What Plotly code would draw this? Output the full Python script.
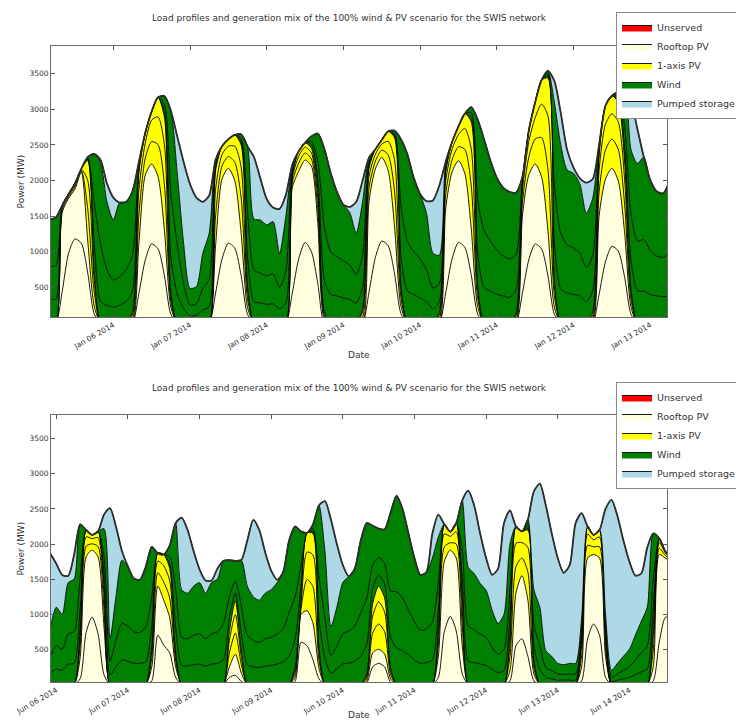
import numpy as np
import pandas as pd
import plotly.graph_objects as go

TITLE = "Load profiles and generation mix of the 100% wind & PV scenario for the SWIS network"
STEP = "2h"

# ---------------- January week (2-hourly, from 2014-01-05 04:00) ----------------
JAN_START = "2014-01-05 04:00"
jan_load = [1455,1480,1650,1810,1960,2165,2330,2375,2290,1960,
            1760,1690,1700,1850,2260,2670,2970,3170,3185,2980,
            2620,2260,1950,1760,1700,1790,2290,2480,2580,2640,
            2650,2480,2330,2030,1740,1620,1600,1800,2220,2410,
            2530,2620,2660,2450,2110,1840,1660,1630,1700,2000,
            2320,2440,2570,2690,2700,2580,2370,2040,1810,1710,
            1720,1930,2260,2540,2760,2940,3030,2860,2580,2280,
            2040,1900,1840,1830,2050,2700,3100,3410,3540,3400,
            2950,2430,2180,2030,1970,2020,2500,3050,3190,3240,
            3230,3100,2720,2330,2010,1850,1820,1980]
jan_roof_a = [0,0,440,980,1180,1120,700,130,0,0,
              0,0,0,0,415,885,1110,1040,660,120,
              0,0,0,0,0,0,420,895,1120,1050,
              665,120,0,0,0,0,0,0,420,900,
              1130,1000,550,0,0,0,0,0,0,0,
              430,920,1150,1085,690,130,0,0,0,0,
              0,0,420,900,1130,1060,670,125,0,0,
              0,0,0,0,415,885,1110,1040,660,120,
              0,0,0,0,0,0,400,860,1075,1010,
              640,120,0,0,0,0,0,0]
jan_roof_b = [0,0,1110,770,700,1000,450,110,0,0,
              0,0,0,0,701,1191,1122,1013,635,103,
              0,0,0,0,0,0,666,1124,1051,947,
              594,97,0,0,0,0,0,0,1480,1228,
              1158,1200,850,60,0,0,0,0,0,0,
              1270,1243,1176,1055,660,103,0,0,0,0,
              0,0,1180,1220,1149,1037,652,103,0,0,
              0,0,0,0,1085,1191,1122,1013,635,103,
              0,0,0,0,0,0,1100,1159,1096,987,
              619,97,0,0,0,0,0,0]
jan_pv_a = [0,0,40,25,35,20,450,200,0,0,
            0,0,0,60,400,240,314,450,640,80,
            0,0,0,0,0,0,420,185,165,260,
            500,120,0,0,0,0,0,0,70,115,
            100,100,180,40,0,0,0,0,0,80,
            190,110,100,220,500,120,0,0,0,0,
            0,60,205,170,195,340,600,120,0,0,
            0,0,0,55,180,250,350,550,860,160,
            0,0,0,0,0,60,340,410,410,440,
            400,100,0,0,0,0,0,0]
jan_pv_b = [0,0,35,20,25,15,400,170,0,0,
            0,0,0,50,350,210,304,390,560,70,
            0,0,0,0,0,0,370,160,145,225,
            430,105,0,0,0,0,0,0,60,95,
            80,85,160,35,0,0,0,0,0,70,
            165,95,85,190,440,105,0,0,0,0,
            0,50,180,150,170,295,520,105,0,0,
            0,0,0,45,160,220,300,470,750,140,
            0,0,0,0,0,50,300,360,355,385,
            350,90,0,0,0,0,0,0]
jan_pv_c = [0,0,25,15,20,10,280,130,0,0,
            0,0,0,40,244,144,120,277,390,50,
            0,0,0,0,0,0,264,116,99,158,
            311,75,0,0,0,0,0,0,40,72,
            62,65,110,25,0,0,0,0,0,50,
            115,72,59,140,310,75,0,0,0,0,
            0,40,125,100,116,208,380,75,0,0,
            0,0,0,30,110,154,218,337,535,100,
            0,0,0,0,0,40,210,261,254,275,
            250,60,0,0,0,0,0,0]
jan_wind_a = [350,330,0,0,0,0,20,400,300,250,
              220,250,300,300,40,0,0,0,80,500,
              400,200,100,110,180,230,40,0,0,0,
              40,400,300,280,260,270,200,280,40,0,
              0,50,170,450,400,380,350,330,280,300,
              40,0,0,0,30,400,450,400,350,300,
              200,150,40,0,0,0,60,450,500,450,
              400,380,360,330,30,0,0,0,30,500,
              480,420,400,380,300,300,40,0,0,40,
              200,400,450,450,400,380,370,380]
jan_wind_b = [450,470,0,0,0,0,15,550,800,500,
              380,400,450,500,50,0,0,0,100,900,
              700,350,150,160,300,380,50,0,0,0,
              50,650,450,420,400,420,300,450,50,0,
              0,50,250,750,600,550,520,480,400,450,
              50,0,0,0,30,700,700,600,550,450,
              290,250,50,0,0,0,70,750,800,700,
              620,560,540,500,30,0,0,0,30,800,
              780,680,650,600,480,500,50,0,0,50,
              300,650,700,720,620,560,550,600]
jan_wind_c = [655,680,0,0,0,0,15,685,1150,950,
              850,1040,950,900,60,0,0,0,120,1157,
              1000,568,236,240,498,649,60,0,0,0,
              60,913,710,746,716,732,478,770,60,0,
              0,70,390,1090,1110,910,790,740,580,750,
              60,0,0,0,40,947,1220,1040,910,790,
              490,400,60,0,0,0,78,1132,1280,1130,
              1020,960,940,870,40,0,0,0,40,1177,
              1240,1050,1050,970,760,800,60,0,0,53,
              471,912,1091,1160,990,910,900,1000]

# ---------------- June week (2-hourly, from 2014-06-05 22:00) ----------------
JUN_START = "2014-06-05 22:00"
jun_load = [1864,1720,1560,1545,1850,2280,2200,2130,2180,2420,
            2510,2250,1900,1680,1510,1490,1680,1960,1870,1850,
            1980,2300,2375,2200,1900,1640,1480,1480,1650,1760,
            1770,1760,1770,2050,2345,2200,1880,1620,1490,1600,
            2050,2250,2180,2160,2280,2550,2610,2350,2000,1700,
            1540,1650,2050,2300,2260,2220,2210,2450,2690,2500,
            2150,1800,1560,1600,2150,2420,2280,2175,2300,2620,
            2760,2550,2150,1800,1560,1650,2300,2480,2250,2180,
            2350,2750,2860,2550,2150,1800,1590,1700,2300,2440,
            2250,2130,2200,2500,2630,2400,2050,1750,1550,1580,
            1950,2150,2080,1900,1800]
jun_roof_a = [0,0,0,0,0,80,740,960,720,135,
              0,0,0,0,0,0,0,50,700,560,
              450,100,0,0,0,0,0,0,0,0,
              100,130,40,0,0,0,0,0,0,0,
              0,40,600,550,350,80,0,0,0,0,
              0,0,0,20,250,300,250,30,0,0,
              0,0,0,0,0,100,750,970,760,150,
              0,0,0,0,0,0,0,50,550,650,
              400,50,0,0,0,0,0,0,0,50,
              650,860,700,100,0,0,0,0,0,0,
              0,50,600,950,980]
jun_roof_b = [0,0,0,0,0,300,1077,952,1097,683,
              0,0,0,0,0,0,0,200,700,640,
              500,150,0,0,0,0,0,0,0,0,
              150,300,120,0,0,0,0,0,0,0,
              0,60,400,500,520,150,0,0,0,0,
              0,0,0,30,200,200,180,50,0,0,
              0,0,0,0,0,300,1000,942,1040,400,
              0,0,0,0,0,0,0,150,750,900,
              800,100,0,0,0,0,0,0,0,200,
              1150,990,1100,300,0,0,0,0,0,0,
              0,200,1250,850,770]
jun_pv_a = [0,0,0,0,0,160,150,90,145,240,
            0,0,0,0,0,0,0,120,190,260,
            280,80,0,0,0,0,0,0,0,0,
            200,300,120,0,0,0,0,0,0,0,
            0,60,80,445,520,120,0,0,0,0,
            0,0,0,40,280,360,320,60,0,0,
            0,0,0,0,0,160,210,105,200,280,
            0,0,0,0,0,0,0,200,380,250,
            400,80,0,0,0,0,0,0,0,160,
            180,110,160,120,0,0,0,0,0,0,
            0,240,90,40,20]
jun_pv_b = [0,0,0,0,0,140,135,75,128,210,
            0,0,0,0,0,0,0,105,165,230,
            245,70,0,0,0,0,0,0,0,0,
            175,265,105,0,0,0,0,0,0,0,
            0,50,70,390,455,105,0,0,0,0,
            0,0,0,35,245,315,280,50,0,0,
            0,0,0,0,0,140,185,92,175,245,
            0,0,0,0,0,0,0,175,330,220,
            350,70,0,0,0,0,0,0,0,140,
            160,100,140,105,0,0,0,0,0,0,
            0,210,80,35,15]
jun_pv_c = [0,0,0,0,0,100,98,53,90,150,
            0,0,0,0,0,0,0,75,115,160,
            175,50,0,0,0,0,0,0,0,0,
            125,195,75,0,0,0,0,0,0,0,
            0,40,50,275,305,75,0,0,0,0,
            0,0,0,25,175,225,200,40,0,0,
            0,0,0,0,0,100,135,66,125,175,
            0,0,0,0,0,0,0,125,240,160,
            250,50,0,0,0,0,0,0,0,100,
            110,70,100,75,0,0,0,0,0,0,
            0,150,60,25,15]
jun_wind_a = [160,220,200,290,300,300,0,0,0,160,
              130,250,350,330,300,300,320,280,0,0,
              70,360,270,260,280,290,260,290,300,350,
              200,110,260,280,250,240,260,270,290,320,
              400,400,200,0,30,400,380,160,220,290,
              300,330,400,420,220,160,200,440,520,480,
              420,350,300,310,350,260,0,0,0,270,
              330,310,290,270,210,170,200,260,0,0,
              30,200,220,100,80,60,60,60,60,60,
              0,0,0,60,40,60,80,100,140,180,
              220,260,0,0,0]
jun_wind_b = [240,330,300,430,450,450,0,0,0,240,
              200,380,520,500,450,440,500,420,0,0,
              100,550,400,390,420,430,390,430,450,520,
              300,170,390,420,380,360,390,400,430,480,
              620,600,290,0,40,600,570,250,330,430,
              460,500,620,650,330,250,290,660,800,750,
              640,540,470,480,540,390,0,0,0,410,
              500,470,430,400,320,260,300,390,0,0,
              50,300,330,140,120,90,80,90,90,90,
              0,0,0,90,60,90,120,150,210,270,
              330,390,0,0,0]
jun_wind_c = [400,550,500,730,750,750,0,0,0,400,
              320,620,900,850,760,750,860,710,0,0,
              160,940,680,650,700,730,650,730,750,890,
              520,290,660,700,620,600,650,680,730,800,
              1030,1000,490,0,60,1020,950,410,550,730,
              780,820,1030,1080,560,410,490,1120,1370,1270,
              1090,910,790,810,910,650,0,0,0,690,
              840,800,720,670,530,440,500,650,0,0,
              70,500,550,240,200,150,140,150,150,150,
              0,0,0,150,100,150,200,250,350,450,
              550,650,0,0,0]

FONT = "DejaVu Sans"
TXT = "#333333"
LINE_SHAPE = dict(shape="spline", smoothing=0.7)


def add_panel(fig, start, load, roof_a, roof_b, pv_a, pv_b, pv_c, w_a, w_b, w_c,
              xref, yref, group, legend_name):
    n = len(load)
    t = pd.date_range(start, periods=n, freq=STEP)
    load = np.asarray(load, dtype=float)
    parts = [np.asarray(a, dtype=float) for a in (roof_a, roof_b, pv_a, pv_b, pv_c, w_a, w_b, w_c)]
    storage = np.clip(load - np.sum(parts, axis=0), 0, None)
    series = [
        ("Unserved", np.zeros(n), "red", True),
        ("Rooftop PV", parts[0], "lightyellow", True),
        ("Rooftop PV", parts[1], "lightyellow", False),
        ("1-axis PV", parts[2], "yellow", True),
        ("1-axis PV", parts[3], "yellow", False),
        ("1-axis PV", parts[4], "yellow", False),
        ("Wind", parts[5], "green", True),
        ("Wind", parts[6], "green", False),
        ("Wind", parts[7], "green", False),
        ("Pumped storage", storage, "lightblue", True),
    ]
    for name, y, col, show in series:
        fig.add_trace(go.Scatter(
            x=t, y=y, name=name, mode="lines", stackgroup=group,
            line=dict(color="black", width=0.9, **LINE_SHAPE), fillcolor=col,
            showlegend=show, legend=legend_name, xaxis=xref, yaxis=yref,
            hoverinfo="skip"))
    fig.add_trace(go.Scatter(
        x=t, y=load, mode="lines", line=dict(color="#2e2e2e", width=1.8, **LINE_SHAPE),
        showlegend=False, xaxis=xref, yaxis=yref, hoverinfo="skip"))


fig = go.Figure()
add_panel(fig, JAN_START, jan_load, jan_roof_a, jan_roof_b, jan_pv_a, jan_pv_b, jan_pv_c,
          jan_wind_a, jan_wind_b, jan_wind_c, "x", "y", "jan", "legend")
add_panel(fig, JUN_START, jun_load, jun_roof_a, jun_roof_b, jun_pv_a, jun_pv_b, jun_pv_c,
          jun_wind_a, jun_wind_b, jun_wind_c, "x2", "y2", "jun", "legend2")

axis_common = dict(showgrid=False, zeroline=False, showline=True, linecolor="#6a6a6a",
                   linewidth=1, mirror="ticks", ticks="inside", ticklen=4,
                   tickcolor="#555555", tickfont=dict(family=FONT, size=7.5, color=TXT))

xcommon = dict(axis_common, type="date", dtick=86400000, tickformat="%b %d %Y", tickangle=-30)

legend_common = dict(xref="container", yref="container", xanchor="right", yanchor="top",
                     bgcolor="white", bordercolor="#8a8a8a",
                     borderwidth=1, font=dict(family=FONT, size=9.5, color=TXT),
                     traceorder="normal", itemwidth=30, tracegroupgap=0)

# the page body adds an 8px offset, so the figure is 8px smaller and margins shifted
fig.update_layout(
    width=736, height=714,
    margin=dict(l=43, r=77, t=38, b=40, autoexpand=False),
    paper_bgcolor="white", plot_bgcolor="white",
    font=dict(family=FONT, color=TXT),
    xaxis=dict(xcommon, domain=[0, 1], anchor="y", tick0="2014-01-06",
               range=["2014-01-05 04:30", "2014-01-13 05:15"]),
    yaxis=dict(axis_common, domain=[0.5739, 1.0], anchor="x", range=[83, 3889],
               tick0=0, dtick=500),
    xaxis2=dict(xcommon, domain=[0, 1], anchor="y2", tick0="2014-06-06",
                range=["2014-06-05 22:14", "2014-06-14 12:36"]),
    yaxis2=dict(axis_common, domain=[0.0, 0.4198], anchor="x2", range=[34, 3838],
                tick0=0, dtick=500),
    legend=dict(legend_common, x=0.9973, y=0.9944),
    legend2=dict(legend_common, x=0.9973, y=0.4762),
    showlegend=True,
)

ann_font = dict(family=FONT, size=9, color=TXT)
annotations = [
    dict(text=TITLE, x=0.4838, y=1.044, xref="paper", yref="paper", showarrow=False,
         xanchor="center", yanchor="middle", font=ann_font),
    dict(text=TITLE, x=0.4838, y=0.4623, xref="paper", yref="paper", showarrow=False,
         xanchor="center", yanchor="middle", font=ann_font),
    dict(text="Date", x=0.5, y=0.514, xref="paper", yref="paper", showarrow=False,
         xanchor="center", yanchor="middle", font=ann_font),
    dict(text="Date", x=0.5, y=-0.052, xref="paper", yref="paper", showarrow=False,
         xanchor="center", yanchor="middle", font=ann_font),
    dict(text="Power (MW)", x=-0.0487, y=0.787, xref="paper", yref="paper", showarrow=False,
         textangle=-90, xanchor="center", yanchor="middle", font=ann_font),
    dict(text="Power (MW)", x=-0.0487, y=0.2099, xref="paper", yref="paper", showarrow=False,
         textangle=-90, xanchor="center", yanchor="middle", font=ann_font),
]
fig.update_layout(annotations=annotations)

fig.write_html("out.html")
